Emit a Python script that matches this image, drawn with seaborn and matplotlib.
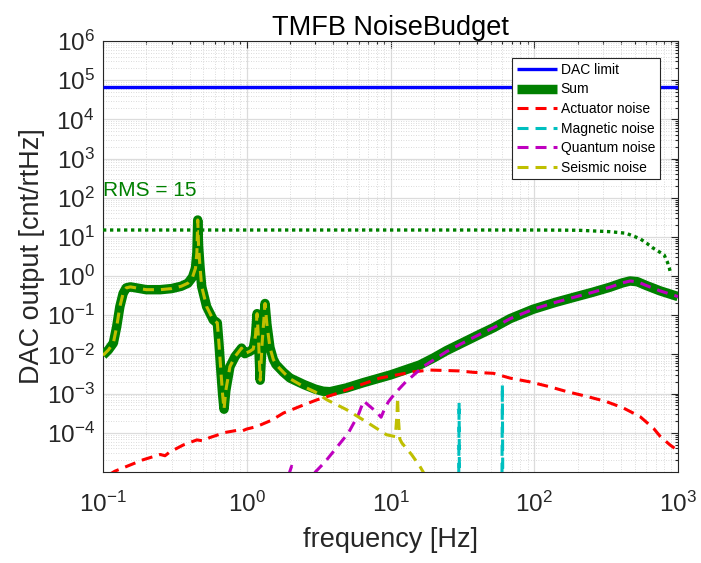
import numpy as np
import matplotlib
matplotlib.use("Agg")
import matplotlib.pyplot as plt
import seaborn as sns
from matplotlib.ticker import LogLocator, FixedLocator, NullFormatter, LogFormatterSciNotation

# ---------------- data ----------------
dac_freq = [0.1, 1000.0]
dac_limit = [65536.0, 65536.0]

sum_freq = [0.100, 0.109, 0.118, 0.1245, 0.131, 0.138, 0.145, 0.155, 0.170, 0.200, 0.250,
            0.300, 0.350, 0.390, 0.420, 0.440, 0.450, 0.456, 0.462, 0.473, 0.486, 0.526, 0.585,
            0.624, 0.640, 0.660, 0.680, 0.695, 0.715, 0.764, 0.830, 0.920, 0.970, 1.05,
            1.11, 1.15, 1.18, 1.21, 1.24, 1.28, 1.34, 1.38, 1.45, 1.53, 1.60, 1.80, 2.00,
            2.50, 3.00, 3.40, 3.80, 4.95, 6.45, 10.0, 16.0, 20.0, 24.5, 30.0, 42.0, 52.0, 68.0,
            98.0, 140.0, 197.0, 257.0, 336.0, 410.0, 464.0, 520.0, 605.0, 750.0, 1000.0]
sum_asd = [0.0095, 0.013, 0.0195, 0.051, 0.166, 0.36, 0.50, 0.53, 0.50, 0.45, 0.45,
           0.48, 0.55, 0.66, 0.95, 1.6, 4.0, 27.0, 6.0, 1.7, 0.54, 0.166, 0.076,
           0.064, 0.02, 0.004, 0.0009, 0.0004, 0.0012, 0.0049, 0.0089, 0.0145, 0.0105, 0.012,
           0.0138, 0.03, 0.11, 0.02, 0.0022, 0.02, 0.20, 0.06, 0.015, 0.0075, 0.0055, 0.0035, 0.0025,
           0.0017, 0.0013, 0.00115, 0.00112, 0.0014, 0.0019, 0.0030, 0.0054, 0.0082, 0.0125,
           0.018, 0.033, 0.048, 0.082, 0.142, 0.213, 0.30, 0.39, 0.52, 0.67, 0.75, 0.72, 0.57,
           0.42, 0.30]

act_freq = [0.11, 0.121, 0.19, 0.25, 0.27, 0.29, 0.362, 0.45, 0.50, 0.55, 0.706, 0.85,
            0.92, 1.0, 1.17, 1.49, 1.8, 2.47, 3.06, 4.2, 4.95, 8.45, 14.4, 18.8, 30.0,
            37.7, 52.0, 67.6, 93.0, 128.0, 168.0, 232.0, 316.0, 417.0, 544.0, 676.0,
            750.0, 880.0, 1000.0]
act_asd = [8.5e-6, 1.05e-5, 2.05e-5, 2.8e-5, 2.6e-5, 3.2e-5, 4.9e-5, 6.6e-5, 6.2e-5, 7.5e-5,
           1.02e-4, 1.15e-4, 1.1e-4, 1.25e-4, 1.44e-4, 2.1e-4, 3.2e-4, 5.1e-4, 6.9e-4, 1.0e-3,
           1.26e-3, 2.5e-3, 3.6e-3, 4.0e-3, 3.8e-3, 3.5e-3, 3.3e-3, 2.5e-3, 2.0e-3, 1.5e-3,
           1.13e-3, 8.5e-4, 6.3e-4, 4.3e-4, 2.6e-4, 1.3e-4, 8.2e-5, 4.9e-5, 3.5e-5]

mag_freq = [29.4, 29.8, 30.0, 30.2, 30.6, 58.8, 59.6, 60.0, 60.4, 61.2]
mag_asd = [1e-8, 2e-6, 6.0e-4, 2e-6, 1e-8, 1e-8, 4e-6, 1.7e-3, 4e-6, 1e-8]

qn_freq = [1.95, 2.05, 2.15, 2.4, 2.8, 3.0, 3.5, 4.0, 5.1, 6.0, 6.5, 7.2, 8.0, 8.6, 9.2,
           9.7, 10.7, 12.6, 16.9, 20.0, 24.5, 30.0, 42.0, 52.0, 68.0, 98.0, 140.0, 197.0, 257.0,
           336.0, 410.0, 464.0, 520.0, 605.0, 750.0, 1000.0]
qn_asd = [8e-6, 1.4e-5, 1.2e-5, 4e-6, 6e-6, 1.0e-5, 1.8e-5, 3.3e-5, 1.0e-4, 3.0e-4, 6.5e-4,
          4.7e-4, 3.4e-4, 2.5e-4, 4.5e-4, 6.3e-4, 1.0e-3, 1.9e-3, 4.9e-3, 7.3e-3, 0.0118, 0.0175,
          0.033, 0.048, 0.082, 0.142, 0.213, 0.30, 0.39, 0.52, 0.67, 0.75, 0.72, 0.57, 0.42, 0.30]

seis_freq = [0.100, 0.109, 0.118, 0.1245, 0.131, 0.138, 0.145, 0.155, 0.170, 0.200, 0.250,
             0.300, 0.350, 0.390, 0.420, 0.440, 0.450, 0.456, 0.462, 0.473, 0.486, 0.526, 0.585,
             0.624, 0.640, 0.660, 0.680, 0.695, 0.715, 0.764, 0.830, 0.920, 0.970, 1.05,
             1.11, 1.15, 1.18, 1.21, 1.24, 1.28, 1.34, 1.38, 1.45, 1.53, 1.60, 1.80, 2.00,
             2.50, 3.00, 3.60, 4.95, 6.8, 9.4, 10.8, 11.1, 11.2, 11.3, 11.6, 12.0, 14.0, 16.0, 17.5]
seis_asd = [0.0095, 0.013, 0.0195, 0.051, 0.166, 0.36, 0.50, 0.53, 0.50, 0.45, 0.45,
            0.48, 0.55, 0.66, 0.95, 1.6, 4.0, 27.0, 6.0, 1.7, 0.54, 0.166, 0.076,
            0.064, 0.02, 0.004, 0.0009, 0.0004, 0.0012, 0.0049, 0.0089, 0.0145, 0.0105, 0.012,
            0.0138, 0.03, 0.11, 0.02, 0.0022, 0.02, 0.20, 0.06, 0.015, 0.0075, 0.0055, 0.0035, 0.0024,
            0.0015, 0.0011, 7.0e-4, 3.9e-4, 1.9e-4, 8.9e-5, 8.0e-5, 3.0e-4, 8.0e-4, 3.0e-4, 7.0e-5,
            5.5e-5, 2.8e-5, 1.4e-5, 8e-6]

rms_freq = [0.1, 100.0, 200.0, 336.0, 436.0, 544.0, 605.0, 676.0, 800.0, 843.0, 871.0, 890.0]
rms_asd = [15.0, 15.0, 14.8, 13.6, 12.4, 9.0, 6.9, 5.1, 3.5, 2.3, 1.6, 1.1]

rms_text = "RMS = 15"
x_ticks = [0.1, 1, 10, 100, 1000]
y_ticks = [1e-4, 1e-3, 1e-2, 1e-1, 1e0, 1e1, 1e2, 1e3, 1e4, 1e5, 1e6]

# ---------------- style ----------------
sns.set_style("white")
plt.rcParams["font.family"] = ["Liberation Sans", "DejaVu Sans"]
plt.rcParams["mathtext.fontset"] = "custom"
plt.rcParams["mathtext.rm"] = "Liberation Sans"
plt.rcParams["mathtext.it"] = "Liberation Sans:italic"
plt.rcParams["mathtext.bf"] = "Liberation Sans:bold"
plt.rcParams["axes.unicode_minus"] = False
plt.rcParams["lines.solid_capstyle"] = "butt"

DARK = "#262626"
fig = plt.figure(figsize=(7.01, 5.63), dpi=100)
ax = fig.add_axes([103 / 701, 1 - 472 / 563, 575 / 701, 431 / 563])
ax.set_xscale("log")
ax.set_yscale("log")

dash = (0, (3.6, 2.3))
sns.lineplot(x=dac_freq, y=dac_limit, ax=ax, color="#0000ff", lw=2.4, label="DAC limit", zorder=3)
sns.lineplot(x=sum_freq, y=sum_asd, ax=ax, color="#008000", lw=6.8, label="Sum", zorder=3,
             solid_capstyle="butt", solid_joinstyle="round")
sns.lineplot(x=act_freq, y=act_asd, ax=ax, color="#ff0000", lw=2.2, linestyle=dash,
             label="Actuator noise", zorder=4)
sns.lineplot(x=mag_freq, y=mag_asd, ax=ax, color="#00bfbf", lw=2.2, linestyle=dash,
             label="Magnetic noise", zorder=4)
sns.lineplot(x=qn_freq, y=qn_asd, ax=ax, color="#bf00bf", lw=2.2, linestyle=dash,
             label="Quantum noise", zorder=4)
sns.lineplot(x=seis_freq, y=seis_asd, ax=ax, color="#bfbf00", lw=2.2, linestyle=dash,
             label="Seismic noise", zorder=4)
sns.lineplot(x=rms_freq, y=rms_asd, ax=ax, color="#008000", lw=2.4,
             linestyle=(0, (1, 1.1)), zorder=4)

ax.text(0.1, 150, rms_text, color="#008000", fontsize=15, ha="left", va="center")

ax.set_xlim(0.1, 1000)
ax.set_ylim(1e-5, 1e6)
ax.xaxis.set_major_locator(FixedLocator(x_ticks))
ax.yaxis.set_major_locator(FixedLocator(y_ticks))
ax.xaxis.set_major_formatter(LogFormatterSciNotation())
ax.yaxis.set_major_formatter(LogFormatterSciNotation())
ax.xaxis.set_minor_locator(LogLocator(base=10, subs=np.arange(2, 10), numticks=100))
ax.yaxis.set_minor_locator(LogLocator(base=10, subs=np.arange(2, 10), numticks=100))
ax.xaxis.set_minor_formatter(NullFormatter())
ax.yaxis.set_minor_formatter(NullFormatter())

ax.grid(True, which="major", color="#dcdcdc", linestyle="-", lw=0.9, zorder=0)
ax.grid(True, which="minor", color="#cfcfcf", linestyle=(0, (1, 2)), lw=0.6, zorder=0)
ax.set_axisbelow(True)

ax.tick_params(which="both", direction="in", top=True, right=True, color=DARK,
               labelcolor=DARK, labelsize=17.5, width=0.8)
ax.tick_params(which="major", length=5)
ax.tick_params(which="minor", length=2.5)
ax.tick_params(axis="x", which="major", pad=14.5)
ax.tick_params(axis="y", which="major", pad=6)
for sp in ax.spines.values():
    sp.set_color(DARK)
    sp.set_linewidth(0.8)

ax.set_xlabel("frequency [Hz]", fontsize=19.5, color=DARK, labelpad=7)
ax.set_ylabel("DAC output [cnt/rtHz]", fontsize=19.5, color=DARK, labelpad=1)
ax.set_title("TMFB NoiseBudget", fontsize=19.5, color="black", pad=4)

leg = ax.legend(loc="upper right", bbox_to_anchor=(0.9687, 0.9606), borderaxespad=0,
                fontsize=10, frameon=True, fancybox=False, framealpha=1,
                edgecolor=DARK, handlelength=2.85, handletextpad=0.3,
                labelspacing=0.4, borderpad=0.35)
leg.get_frame().set_linewidth(0.8)
for t in leg.get_texts():
    t.set_color("black")

fig.savefig("out.png", dpi=100)
